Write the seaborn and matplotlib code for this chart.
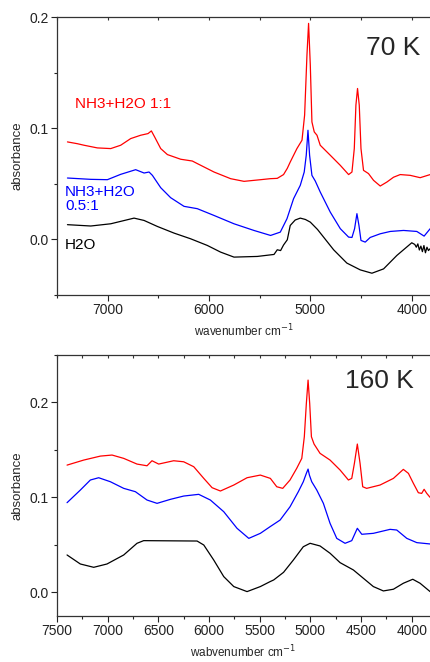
import pandas as pd
import numpy as np
import matplotlib
matplotlib.use("Agg")
import matplotlib.pyplot as plt
import seaborn as sns
from matplotlib.ticker import MultipleLocator, FormatStrFormatter

# ---- 70 K spectra ----
red70_x = [7397, 7300, 7233, 7102, 6970, 6872, 6773, 6675, 6602, 6569, 6537, 6477, 6411, 6280, 6165,
           6116, 5951, 5787, 5655, 5491, 5396, 5327, 5265, 5228, 5199, 5133, 5083, 5057, 5034, 5018,
           5001, 4985, 4962, 4935, 4903, 4804, 4705, 4623, 4590, 4567, 4551, 4535, 4518, 4501, 4476,
           4427, 4377, 4311, 4245, 4180, 4114, 4015, 3917, 3818]
red70_y = [0.0878, 0.0862, 0.0848, 0.0824, 0.0818, 0.0848, 0.0908, 0.0938, 0.0953, 0.0977, 0.0923, 0.0818, 0.0764, 0.0722, 0.0706,
           0.0683, 0.0607, 0.0547, 0.0523, 0.0538, 0.0547, 0.0550, 0.0584, 0.0640, 0.0697, 0.0818, 0.0893, 0.1120, 0.1660, 0.1945,
           0.1570, 0.1058, 0.0968, 0.0938, 0.0848, 0.0758, 0.0667, 0.0584, 0.0607, 0.0818, 0.1209, 0.1359, 0.1209, 0.0818, 0.0622,
           0.0593, 0.0532, 0.0481, 0.0517, 0.0560, 0.0584, 0.0577, 0.0556, 0.0584]

blue70_x = [7397, 7167, 7003, 6872, 6724, 6641, 6592, 6559, 6477, 6379, 6247, 6116, 5951, 5754, 5557,
            5393, 5297, 5231, 5166, 5100, 5061, 5041, 5024, 5008, 4985, 4952, 4903, 4804, 4705, 4623,
            4590, 4564, 4541, 4521, 4501, 4459, 4410, 4311, 4212, 4081, 3950, 3878, 3818]
blue70_y = [0.0553, 0.0541, 0.0538, 0.0586, 0.0628, 0.0598, 0.0607, 0.0577, 0.0466, 0.0376, 0.0298, 0.0277, 0.0216, 0.0141, 0.0081,
            0.0036, 0.0066, 0.0187, 0.0367, 0.0487, 0.0607, 0.0758, 0.0983, 0.0758, 0.0577, 0.0526, 0.0427, 0.0246, 0.0097, 0.0021,
            0.0018, 0.0097, 0.0232, 0.0126, -0.0009, -0.0024, 0.0018, 0.0051, 0.0072, 0.0081, 0.0072, 0.0030, 0.0097]

black70_x = [7397, 7167, 6970, 6740, 6641, 6510, 6345, 6182, 6017, 5886, 5754, 5524, 5359, 5327, 5294,
             5265, 5228, 5199, 5150, 5100, 5050, 5001, 4930, 4870, 4771, 4640, 4508, 4393, 4278, 4147,
             4000, 3970, 3955, 3940, 3925, 3910, 3895, 3880, 3865, 3850, 3835, 3820]
black70_y = [0.0133, 0.0121, 0.0141, 0.0192, 0.0171, 0.0117, 0.0057, 0.0006, -0.0054, -0.0114, -0.0159, -0.0153, -0.0135, -0.0093, -0.0100,
             -0.0050, -0.0003, 0.0126, 0.0175, 0.0192, 0.0180, 0.0156, 0.0090, 0.0021, -0.0093, -0.0213, -0.0274, -0.0304, -0.0265, -0.0144,
             -0.0030, -0.0045, -0.0070, -0.0040, -0.0095, -0.0060, -0.0110, -0.0055, -0.0120, -0.0070, -0.0100, -0.0084]

# ---- 160 K spectra ----
red160_x = [7401, 7237, 7072, 6957, 6842, 6711, 6612, 6563, 6497, 6349, 6250, 6151, 6052, 5970, 5888,
            5756, 5625, 5494, 5395, 5332, 5273, 5201, 5135, 5085, 5060, 5040, 5023, 5007, 4990, 4964,
            4905, 4806, 4707, 4625, 4592, 4566, 4537, 4510, 4484, 4445, 4313, 4181, 4083, 4033, 3984,
            3935, 3902, 3878, 3852, 3819]
red160_y = [0.1340, 0.1393, 0.1435, 0.1446, 0.1411, 0.1351, 0.1333, 0.1386, 0.1351, 0.1386, 0.1375, 0.1323, 0.1200, 0.1102, 0.1067,
            0.1130, 0.1207, 0.1235, 0.1200, 0.1112, 0.1095, 0.1183, 0.1306, 0.1411, 0.1639, 0.1990, 0.2236, 0.1990, 0.1639, 0.1562,
            0.1464, 0.1393, 0.1288, 0.1183, 0.1200, 0.1358, 0.1562, 0.1358, 0.1112, 0.1095, 0.1130, 0.1200, 0.1295, 0.1253, 0.1148,
            0.1049, 0.1042, 0.1085, 0.1042, 0.1000]

blue160_x = [7401, 7270, 7171, 7089, 6974, 6842, 6727, 6612, 6513, 6382, 6250, 6102, 5987, 5855, 5724,
             5608, 5494, 5398, 5299, 5201, 5119, 5070, 5040, 5023, 5010, 4987, 4937, 4872, 4806, 4740,
             4658, 4592, 4537, 4493, 4379, 4214, 4148, 4049, 3950, 3819]
blue160_y = [0.0944, 0.1077, 0.1183, 0.1207, 0.1165, 0.1095, 0.1060, 0.0972, 0.0937, 0.0979, 0.1014, 0.1032, 0.0972, 0.0849, 0.0674,
             0.0568, 0.0621, 0.0691, 0.0761, 0.0901, 0.1060, 0.1165, 0.1253, 0.1298, 0.1235, 0.1165, 0.1077, 0.0937, 0.0726, 0.0568,
             0.0516, 0.0544, 0.0674, 0.0611, 0.0621, 0.0663, 0.0656, 0.0568, 0.0523, 0.0509]

black160_x = [7401, 7270, 7138, 7007, 6842, 6711, 6645, 6118, 6052, 5954, 5855, 5756, 5625, 5494, 5398,
              5362, 5265, 5168, 5070, 5003, 4905, 4806, 4707, 4576, 4477, 4379, 4280, 4181, 4083, 3990,
              3918, 3819]
black160_y = [0.0393, 0.0298, 0.0263, 0.0298, 0.0393, 0.0516, 0.0544, 0.0540, 0.0498, 0.0340, 0.0165, 0.0060, 0.0007, 0.0060, 0.0112,
              0.0130, 0.0210, 0.0340, 0.0480, 0.0516, 0.0488, 0.0411, 0.0312, 0.0235, 0.0147, 0.0060, 0.0014, 0.0032, 0.0095, 0.0137,
              0.0095, 0.0007]

colors = {"red": "#ff0000", "blue": "#0000ff", "black": "#000000"}

sns.set_style("ticks")
plt.rcParams["font.family"] = ["Liberation Sans", "DejaVu Sans"]

fig = plt.figure(figsize=(4.3, 6.62), dpi=100)
ax1 = fig.add_axes([0.1326, 0.5544, 0.8674, 0.4195])
ax2 = fig.add_axes([0.1326, 0.0695, 0.8674, 0.3942])


def draw(ax, curves):
    for name, xs, ys in curves:
        df = pd.DataFrame({"x": xs, "y": ys})
        sns.lineplot(data=df, x="x", y="y", ax=ax, color=colors[name], lw=0.9,
                     sort=False, estimator=None)


draw(ax1, [("red", red70_x, red70_y), ("blue", blue70_x, blue70_y), ("black", black70_x, black70_y)])
draw(ax2, [("red", red160_x, red160_y), ("blue", blue160_x, blue160_y), ("black", black160_x, black160_y)])

ax1.set_xlim(7500, 3820)
ax1.set_ylim(-0.05, 0.2)
ax2.set_xlim(7500, 3820)
ax2.set_ylim(-0.025, 0.25)

ax1.xaxis.set_major_locator(MultipleLocator(1000))
ax1.xaxis.set_minor_locator(MultipleLocator(500))
ax2.xaxis.set_major_locator(MultipleLocator(500))
ax2.xaxis.set_minor_locator(MultipleLocator(250))
for ax, step in ((ax1, 500), (ax2, 250)):
    ax.yaxis.set_major_locator(MultipleLocator(0.1))
    ax.yaxis.set_minor_locator(MultipleLocator(0.05))
    ax.yaxis.set_major_formatter(FormatStrFormatter("%.1f"))
    ax.spines["right"].set_visible(False)
    for s in ("left", "bottom", "top"):
        ax.spines[s].set_linewidth(0.9)
        ax.spines[s].set_color("#333333")
    ax.tick_params(which="major", length=4, width=0.8, labelsize=10, pad=2, colors="#222222")
    ax.tick_params(which="minor", length=2.5, width=0.8, colors="#222222")
    ax.set_ylabel("absorbance", fontsize=9.5, labelpad=4)
    # small inward ticks on the top frame
    top = ax.twiny()
    top.set_xlim(ax.get_xlim())
    top.xaxis.set_major_locator(MultipleLocator(step))
    top.tick_params(axis="x", direction="in", length=2, width=0.8, labeltop=False, colors="#333333")
    for s in top.spines.values():
        s.set_visible(False)

ax1.set_xlabel("wavenumber cm$^{-1}$", fontsize=8.5, labelpad=4)
ax2.set_xlabel("wabvenumber cm$^{-1}$", fontsize=8.5, labelpad=4)

ax1.text(0.975, 0.89, "70 K", transform=ax1.transAxes, fontsize=19, ha="right", va="center")
ax2.text(0.957, 0.90, "160 K", transform=ax2.transAxes, fontsize=19, ha="right", va="center")

ax1.text(7320, 0.122, "NH3+H2O 1:1", color=colors["red"], fontsize=11, ha="left", va="center")
ax1.text(7420, 0.036, "NH3+H2O\n0.5:1", color=colors["blue"], fontsize=11, ha="left", va="center",
         linespacing=1.0)
ax1.text(7420, -0.005, "H2O", color=colors["black"], fontsize=11, ha="left", va="center")

fig.savefig("out.png", dpi=100)
